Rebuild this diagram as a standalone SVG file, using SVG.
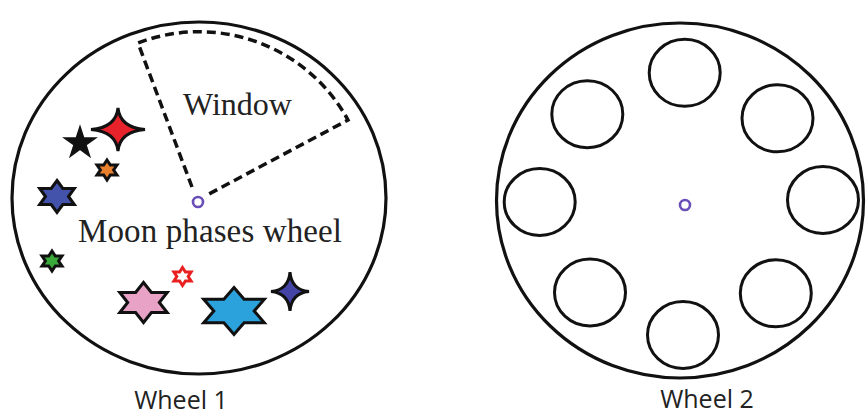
<svg xmlns="http://www.w3.org/2000/svg" width="866" height="415" viewBox="0 0 866 415">
<style>
.wheel{fill:none;stroke:#111;stroke-width:3.2}
.hole{fill:none;stroke:#111;stroke-width:3}
.axle{fill:#fff;stroke:#6a4fb8;stroke-width:2.6}
.win{fill:none;stroke:#111;stroke-width:3.5;stroke-dasharray:9 5}
.star{stroke:#111;stroke-width:3;stroke-linejoin:miter}
.serif{font-family:"Liberation Serif","Times New Roman",serif;fill:#222}
.sans{font-family:"Open Sans","Liberation Sans",sans-serif;fill:#222;font-size:25px;text-anchor:middle}
</style>
<rect width="866" height="415" fill="#fff"/>
<g id="wheel1">
<ellipse class="wheel" cx="199" cy="198" rx="187" ry="176"/>
<g id="window">
<path class="win" d="M192,187 L138,43 A170,170 0 0 1 348,120 L209,194"/>
<text class="serif" x="183" y="115" font-size="32">Window</text>
</g>
<circle class="axle" cx="198" cy="202" r="5"/>
<text class="serif" x="78" y="242" font-size="33" textLength="264">Moon phases wheel</text>
<g id="stars1">
<path class="star" fill="#e8222a" d="M118,108 Q120,127.5 145,129.5 Q120,131.5 118,151 Q116,131.5 91,129.5 Q116,127.5 118,108Z"/>
<polygon class="star" fill="#111" points="80,129 83.14,138.67 93.31,138.67 85.09,144.65 88.23,154.33 80,148.35 71.77,154.33 74.91,144.65 66.69,138.67 76.86,138.67"/>
<polygon class="star" fill="#e8802e" points="107,160 110.3,165 117,165 113.6,170 117,175 110.3,175 107,180 103.7,175 97,175 100.4,170 97,165 103.7,165"/>
<polygon class="star" fill="#4352aa" points="57,180.5 62.8,188.5 74.3,188.5 68.5,196.5 74.3,204.5 62.8,204.5 57,212.5 51.2,204.5 39.7,204.5 45.5,196.5 39.7,188.5 51.2,188.5"/>
<polygon class="star" fill="#3aaa3a" points="52,251 55.3,256 62,256 58.6,261 62,266 55.3,266 52,271 48.7,266 42,266 45.4,261 42,256 48.7,256"/>
<polygon fill="#fff" stroke="#e82020" stroke-width="3" points="182.5,267.5 185.4,272 191.1,272 188.2,276.5 191.1,281 185.4,281 182.5,285.5 179.6,281 173.9,281 176.8,276.5 173.9,272 179.6,272"/>
<polygon class="star" fill="#e8a2c6" points="143.5,282.5 151.4,292.5 167.2,292.5 159.3,302.5 167.2,312.5 151.4,312.5 143.5,322.5 135.6,312.5 119.8,312.5 127.7,302.5 119.8,292.5 135.6,292.5"/>
<polygon class="star" fill="#2ba2dc" points="234,287.5 244.1,299.25 264.3,299.25 254.2,311 264.3,322.75 244.1,322.75 234,334.5 223.9,322.75 203.7,322.75 213.8,311 203.7,299.25 223.9,299.25"/>
<path class="star" fill="#4444a6" d="M290,272 Q291.5,290 309,291.5 Q291.5,293 290,311 Q288.5,293 271,291.5 Q288.5,290 290,272Z"/>
</g>
<text class="sans" x="181" y="409">Wheel 1</text>
</g>
<g id="wheel2">
<ellipse class="wheel" cx="680" cy="200.5" rx="183.5" ry="177.5"/>
<ellipse class="hole" cx="684.7" cy="72.8" rx="35.5" ry="33.5"/>
<ellipse class="hole" cx="587.3" cy="114.2" rx="35.5" ry="33.5"/>
<ellipse class="hole" cx="777.5" cy="118.3" rx="35.5" ry="33.5"/>
<ellipse class="hole" cx="539.7" cy="202" rx="35.5" ry="33.5"/>
<ellipse class="hole" cx="823" cy="200" rx="35.5" ry="33.5"/>
<ellipse class="hole" cx="590" cy="292.5" rx="35.5" ry="33.5"/>
<ellipse class="hole" cx="775.8" cy="293.3" rx="35.5" ry="33.5"/>
<ellipse class="hole" cx="683" cy="335" rx="35.5" ry="33.5"/>
<circle class="axle" cx="685" cy="205" r="5"/>
<text class="sans" x="707" y="408">Wheel 2</text>
</g>
</svg>
